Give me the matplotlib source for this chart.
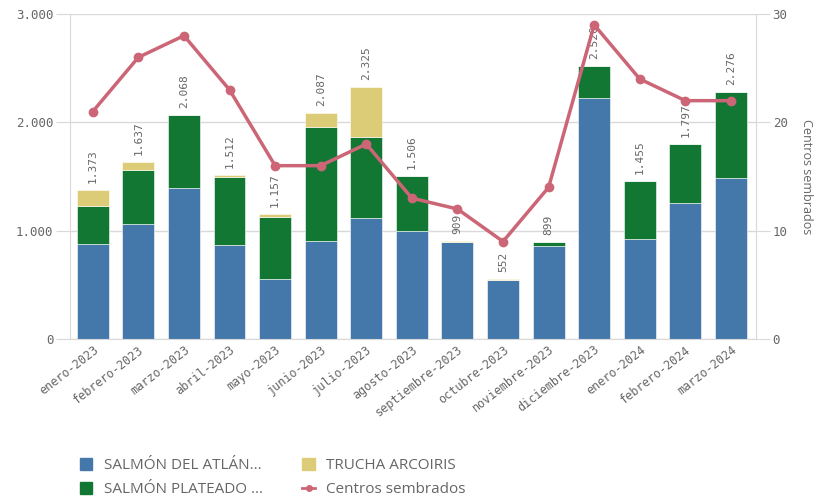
import matplotlib
matplotlib.use("Agg")
import matplotlib.pyplot as plt
from matplotlib.patches import Patch
from matplotlib.lines import Line2D
import numpy as np

months = ["enero-2023", "febrero-2023", "marzo-2023", "abril-2023", "mayo-2023",
          "junio-2023", "julio-2023", "agosto-2023", "septiembre-2023", "octubre-2023",
          "noviembre-2023", "diciembre-2023", "enero-2024", "febrero-2024", "marzo-2024"]
atlantico = [877, 1062, 1394, 868, 554, 905, 1117, 997, 896, 547, 859, 2225, 923, 1255, 1486]
plateado = [351, 498, 674, 628, 573, 1052, 748, 509, 0, 0, 40, 295, 532, 542, 790]
trucha = [145, 77, 0, 16, 30, 130, 460, 0, 13, 5, 0, 0, 0, 0, 0]
totals = [1373, 1637, 2068, 1512, 1157, 2087, 2325, 1506, 909, 552, 899, 2520, 1455, 1797, 2276]
centros = [21, 26, 28, 23, 16, 16, 18, 13, 12, 9, 14, 29, 24, 22, 22]

C_BLUE = "#4477AA"
C_GREEN = "#117733"
C_YELLOW = "#DDCC77"
C_LINE = "#CC6677"
GRAY = "#666666"
GRID = "#d9d9d9"

fig = plt.figure(figsize=(8.16, 4.96), dpi=100)
ax = fig.add_axes([70/816, 1-339/496, (756-70)/816, (339-14)/496])
x = np.arange(len(months))
w = 0.7
a = np.array(atlantico); p = np.array(plateado); t = np.array(trucha)
ax.bar(x, a, w, color=C_BLUE, edgecolor="#ffffff", linewidth=0.4, zorder=2)
ax.bar(x, p, w, bottom=a, color=C_GREEN, edgecolor="#ffffff", linewidth=0.4, zorder=2)
ax.bar(x, t, w, bottom=a+p, color=C_YELLOW, edgecolor="#ffffff", linewidth=0.4, zorder=2)

for xi, tot in zip(x, totals):
    s = f"{tot:,}".replace(",", ".")
    ax.annotate(s, (xi, tot), xytext=(0, 5), textcoords="offset points",
                rotation=90, ha="center", va="bottom", fontsize=8,
                family="DejaVu Sans Mono", color=GRAY, zorder=5)

ax.set_xlim(-0.5, 14.55)
ax.set_ylim(0, 3000)
ax.set_yticks([0, 1000, 2000, 3000])
ax.set_yticklabels(["0", "1.000", "2.000", "3.000"], family="DejaVu Sans Mono", fontsize=9, color=GRAY)
ax.yaxis.grid(True, color=GRID, linewidth=1, zorder=0)
ax.set_axisbelow(True)
ax.tick_params(axis="y", length=10, color=GRID, pad=2)
ax.tick_params(axis="x", length=0, pad=3)
ax.set_xticks(x)
ax.set_xticklabels(months, rotation=38, ha="right", rotation_mode="anchor",
                   family="DejaVu Sans Mono", fontsize=8.5, color=GRAY)
for s in ["top", "right"]:
    ax.spines[s].set_visible(False)
ax.spines["left"].set_color(GRID)
ax.spines["bottom"].set_color(GRID)

ax2 = ax.twinx()
ax2.plot(x, centros, color=C_LINE, linewidth=2.5, marker="o", markersize=6, zorder=4)
ax2.set_ylim(0, 30)
ax2.set_yticks([0, 10, 20, 30])
ax2.set_yticklabels(["0", "10", "20", "30"], family="DejaVu Sans Mono", fontsize=9, color=GRAY)
ax2.tick_params(axis="y", length=10, color=GRID, pad=2)
for s in ["top", "left", "bottom"]:
    ax2.spines[s].set_visible(False)
ax2.spines["right"].set_color(GRID)
ax2.set_ylabel("Centros sembrados", rotation=270, va="bottom", labelpad=9,
               fontsize=9, color=GRAY, family="Open Sans")

handles = [Patch(color=C_BLUE), Patch(color=C_GREEN), Patch(color=C_YELLOW),
           Line2D([0], [0], color=C_LINE, linewidth=2, marker="o", markersize=4)]
labels = ["SALMÓN DEL ATLÁN...", "SALMÓN PLATEADO ...", "TRUCHA ARCOIRIS", "Centros sembrados"]
leg = fig.legend(handles, labels, ncol=2, loc="upper left", bbox_to_anchor=(80/816, 1-458/496),
                 frameon=False, prop={"family": "Open Sans", "size": 11},
                 borderpad=0, borderaxespad=0,
                 handlelength=0.8, handleheight=0.8, handletextpad=0.75,
                 columnspacing=2.6, labelspacing=0.6)
for txt in leg.get_texts():
    txt.set_color(GRAY)

fig.savefig("out.png", dpi=100)
